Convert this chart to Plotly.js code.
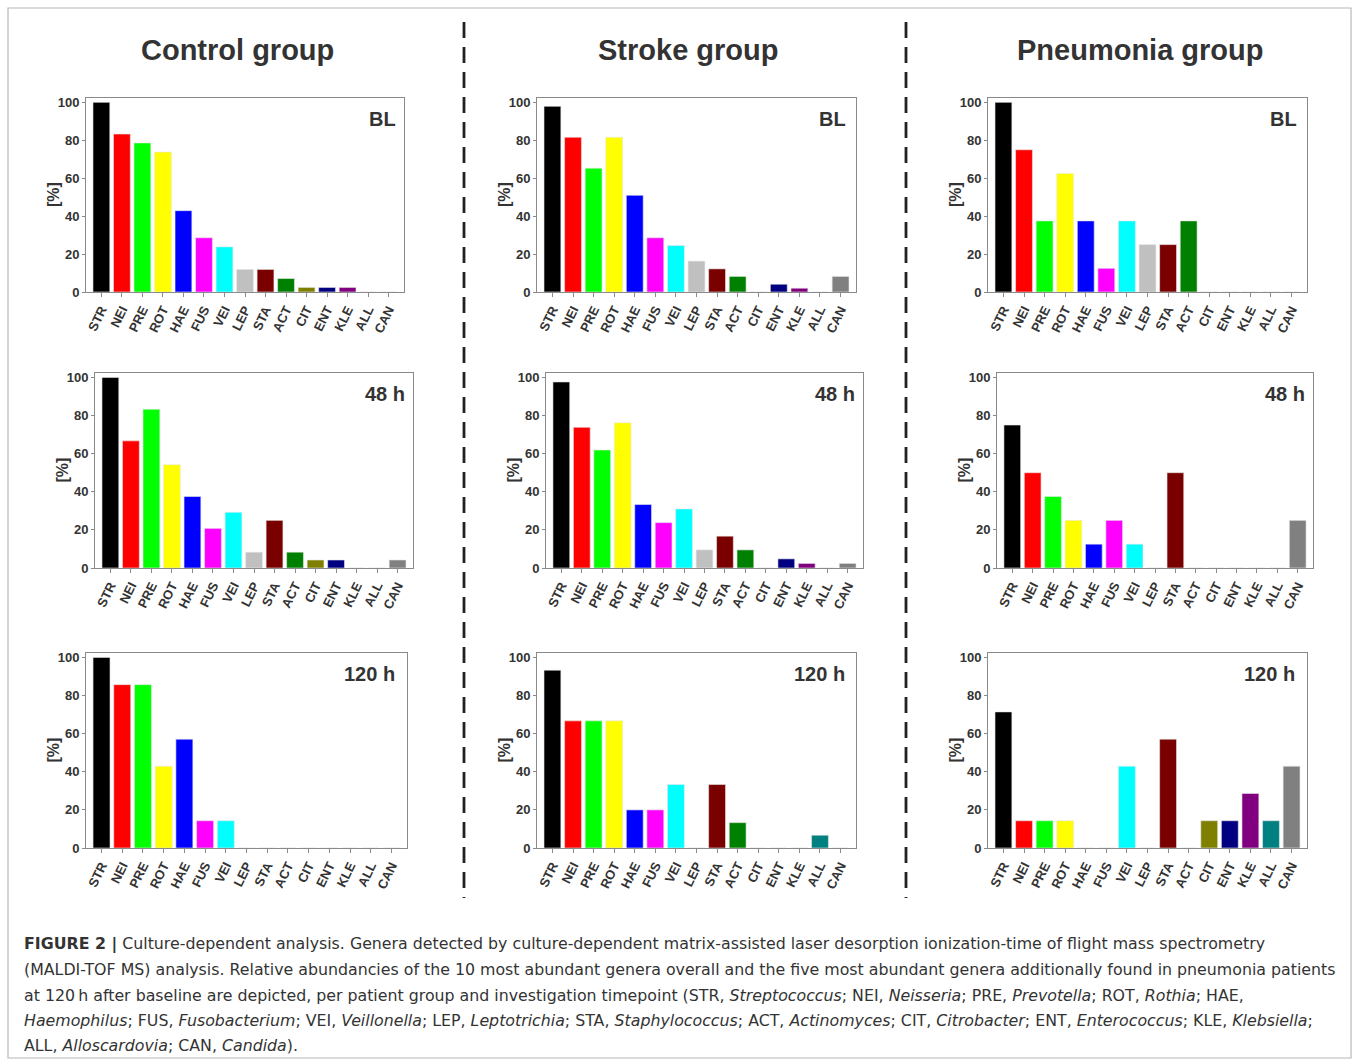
<!DOCTYPE html>
<html>
<head>
<meta charset="utf-8">
<script src="https://cdn.plot.ly/plotly-3.0.1.min.js"></script>
<style>html,body{margin:0;padding:0;background:#fff;}#chart{width:1358px;height:1064px;}</style>
</head>
<body>
<div id="chart"></div>
<script>
// ---------- DATA ----------
const categories = ['STR','NEI','PRE','ROT','HAE','FUS','VEI','LEP','STA','ACT','CIT','ENT','KLE','ALL','CAN'];
const barColors = ['#000000','#ff0000','#00ff00','#ffff00','#0000ff','#ff00ff','#00ffff','#c0c0c0','#7a0000','#008000','#808000','#000080','#800080','#008080','#808080'];

const groupTitles = ['Control group','Stroke group','Pneumonia group'];
const timeLabels = ['BL','48 h','120 h'];

const controlBL   = [100, 83.3, 78.6, 73.8, 42.9, 28.6, 23.8, 11.9, 11.9, 7.1, 2.4, 2.4, 2.4, 0, 0];
const strokeBL    = [97.9, 81.6, 65.3, 81.6, 51.0, 28.6, 24.5, 16.3, 12.2, 8.2, 0, 4.1, 2.0, 0, 8.2];
const pneumoBL    = [100, 75, 37.5, 62.5, 37.5, 12.5, 37.5, 25, 25, 37.5, 0, 0, 0, 0, 0];

const control48   = [100, 66.7, 83.3, 54.2, 37.5, 20.8, 29.2, 8.3, 25, 8.3, 4.2, 4.2, 0, 0, 4.2];
const stroke48    = [97.6, 73.8, 61.9, 76.2, 33.3, 23.8, 31.0, 9.5, 16.7, 9.5, 0, 4.8, 2.4, 0, 2.4];
const pneumo48    = [75, 50, 37.5, 25, 12.5, 25, 12.5, 0, 50, 0, 0, 0, 0, 0, 25];

const control120  = [100, 85.7, 85.7, 42.9, 57.1, 14.3, 14.3, 0, 0, 0, 0, 0, 0, 0, 0];
const stroke120   = [93.3, 66.7, 66.7, 66.7, 20, 20, 33.3, 0, 33.3, 13.3, 0, 0, 0, 6.7, 0];
const pneumo120   = [71.4, 14.3, 14.3, 14.3, 0, 0, 42.9, 0, 57.1, 0, 14.3, 14.3, 28.6, 14.3, 42.9];

const yTicks = [0, 20, 40, 60, 80, 100];
const yAxisLabel = '[%]';

const captionLines = [
  '<b>FIGURE 2 |</b> Culture-dependent analysis. Genera detected by culture-dependent matrix-assisted laser desorption ionization-time of flight mass spectrometry',
  '(MALDI-TOF MS) analysis. Relative abundancies of the 10 most abundant genera overall and the five most abundant genera additionally found in pneumonia patients',
  'at 120\u2009h after baseline are depicted, per patient group and investigation timepoint (STR, <i>Streptococcus</i>; NEI, <i>Neisseria</i>; PRE, <i>Prevotella</i>; ROT, <i>Rothia</i>; HAE,',
  '<i>Haemophilus</i>; FUS, <i>Fusobacterium</i>; VEI, <i>Veillonella</i>; LEP, <i>Leptotrichia</i>; STA, <i>Staphylococcus</i>; ACT, <i>Actinomyces</i>; CIT, <i>Citrobacter</i>; ENT, <i>Enterococcus</i>; KLE, <i>Klebsiella</i>;',
  'ALL, <i>Alloscardovia</i>; CAN, <i>Candida</i>).'
];

// ---------- LAYOUT ----------
const W = 1358, H = 1064;
const px = v => v / W;
const py = v => 1 - v / H;

const panelData = [
  [controlBL, strokeBL, pneumoBL],
  [control48, stroke48, pneumo48],
  [control120, stroke120, pneumo120]
];
const colBoxes = [
  [[86,404],[537,856],[988,1307]],
  [[95,413],[546,863],[997,1313]],
  [[86,407],[537,856],[988,1307]]
];
const rowBoxes = [[98,292],[373,568],[653,848]];
const labelRight = [
  [398, 848, 1299],
  [407, 857, 1307],
  [397, 847, 1297]
];
const labelY = [119, 394, 674];

const font = 'Liberation Sans, Arial, Helvetica, sans-serif';
const textCol = '#333333';

const traces = [];
const layout = {
  width: W, height: H,
  margin: {l:0, r:0, t:0, b:0},
  paper_bgcolor: '#ffffff',
  plot_bgcolor: '#ffffff',
  showlegend: false,
  bargap: 0.18,
  font: {family: font, color: textCol},
  annotations: [],
  shapes: []
};

let idx = 0;
for (let r = 0; r < 3; r++) {
  for (let c = 0; c < 3; c++) {
    idx++;
    const xa = idx === 1 ? 'xaxis' : 'xaxis' + idx;
    const ya = idx === 1 ? 'yaxis' : 'yaxis' + idx;
    const xr = idx === 1 ? 'x' : 'x' + idx;
    const yr = idx === 1 ? 'y' : 'y' + idx;
    traces.push({
      type: 'bar',
      x: categories,
      y: panelData[r][c],
      xaxis: xr, yaxis: yr,
      marker: {color: barColors, line: {color: '#e8e8e8', width: 0.6}},
      hoverinfo: 'x+y'
    });
    const [l, rr] = colBoxes[r][c];
    const [t, b] = rowBoxes[r];
    layout[xa] = {
      domain: [px(l), px(rr)],
      anchor: yr,
      type: 'category',
      categoryorder: 'array',
      categoryarray: categories,
      range: [-0.75, 14.75],
      showline: true, mirror: true, linecolor: '#8a8a8a', linewidth: 1,
      ticks: 'outside', ticklen: 4, tickcolor: '#8a8a8a',
      tickangle: -64,
      tickfont: {family: font, size: 13, color: textCol, weight: 'bold'},
      showgrid: false, zeroline: false, fixedrange: true
    };
    layout[ya] = {
      domain: [py(b), py(t)],
      anchor: xr,
      range: [0, 102.3],
      tickvals: yTicks,
      showline: true, mirror: true, linecolor: '#8a8a8a', linewidth: 1,
      ticks: 'outside', ticklen: 3, tickcolor: '#8a8a8a',
      tickfont: {family: font, size: 13, color: textCol, weight: 'bold'},
      showgrid: false, zeroline: false, fixedrange: true
    };
    layout.annotations.push({
      xref: 'paper', yref: 'paper',
      x: px(l - 33), y: py((t + b) / 2),
      xanchor: 'center', yanchor: 'middle', textangle: -90,
      text: '<b>' + yAxisLabel + '</b>', showarrow: false,
      font: {family: font, size: 16, color: textCol}
    });
    layout.annotations.push({
      xref: 'paper', yref: 'paper',
      x: px(labelRight[r][c]), y: py(labelY[r]),
      xanchor: 'right', yanchor: 'middle',
      text: '<b>' + timeLabels[r] + '</b>',
      showarrow: false,
      font: {family: font, size: 20, color: textCol}
    });
  }
}

// column titles
const titleX = [238, 688, 1140];
groupTitles.forEach((t, i) => {
  layout.annotations.push({
    xref: 'paper', yref: 'paper', x: px(titleX[i]), y: py(50),
    xanchor: 'center', yanchor: 'middle',
    text: '<b>' + t + '</b>', showarrow: false,
    font: {family: font, size: 29, color: textCol}
  });
});

// caption
const capY = [944, 969, 995, 1020, 1045];
captionLines.forEach((line, i) => {
  layout.annotations.push({
    xref: 'paper', yref: 'paper', x: px(22), y: py(capY[i]),
    xanchor: 'left', yanchor: 'middle', align: 'left',
    text: line, showarrow: false,
    font: {family: 'DejaVu Sans, sans-serif', size: 15.8, color: '#333333'}
  });
});

// outer frame
layout.shapes.push({
  type: 'rect', xref: 'paper', yref: 'paper',
  x0: px(8), x1: px(1351), y0: py(1058), y1: py(8),
  line: {color: '#b8b8b8', width: 1.2}, fillcolor: 'rgba(0,0,0,0)', layer: 'below'
});
// dashed separators
[464, 906].forEach(xv => {
  layout.shapes.push({
    type: 'line', xref: 'paper', yref: 'paper',
    x0: px(xv), x1: px(xv), y0: py(22), y1: py(898),
    line: {color: '#222222', width: 2.8, dash: '16px,9px'}
  });
});

Plotly.newPlot('chart', traces, layout, {displayModeBar: false, staticPlot: true});
</script>
</body>
</html>
